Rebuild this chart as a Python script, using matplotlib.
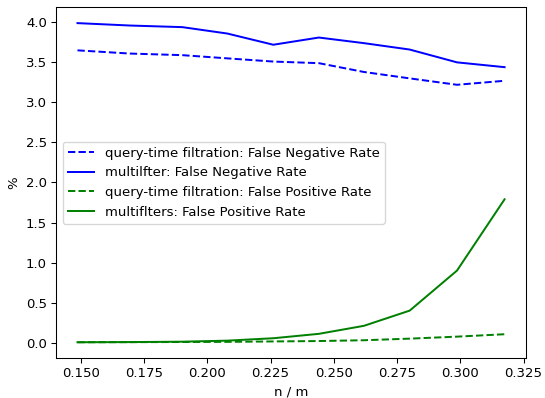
import matplotlib
matplotlib.use('Agg')
import matplotlib.pyplot as plt

# n / m values
nm = [0.1487, 0.1694, 0.1901, 0.2079, 0.2261, 0.2441, 0.2619, 0.2800, 0.2987, 0.3175]

# false negative rates (%)
fnr_query = [3.65, 3.61, 3.59, 3.55, 3.51, 3.49, 3.38, 3.30, 3.22, 3.27]
fnr_multi = [3.99, 3.96, 3.94, 3.86, 3.72, 3.81, 3.74, 3.66, 3.50, 3.44]

# false positive rates (%)
fpr_query = [0.005, 0.006, 0.008, 0.010, 0.015, 0.020, 0.030, 0.050, 0.075, 0.105]
fpr_multi = [0.005, 0.007, 0.012, 0.025, 0.055, 0.11, 0.21, 0.40, 0.90, 1.79]

# the reference looks like a default figure scaled down a bit, so use dpi 95
dpi = 95
fig, ax = plt.subplots(figsize=(545 / dpi, 398 / dpi), dpi=dpi)
fig.subplots_adjust(left=0.103, right=0.965, bottom=0.10, top=0.982)

ax.plot(nm, fnr_query, 'b--', label='query-time filtration: False Negative Rate')
ax.plot(nm, fnr_multi, 'b-', label='multilfter: False Negative Rate')
ax.plot(nm, fpr_query, 'g--', label='query-time filtration: False Positive Rate')
ax.plot(nm, fpr_multi, 'g-', label='multiflters: False Positive Rate')

ax.set_xlabel('n / m')
ax.set_ylabel('%')
ax.legend(loc='center left')

fig.savefig('out.png', dpi=dpi)
